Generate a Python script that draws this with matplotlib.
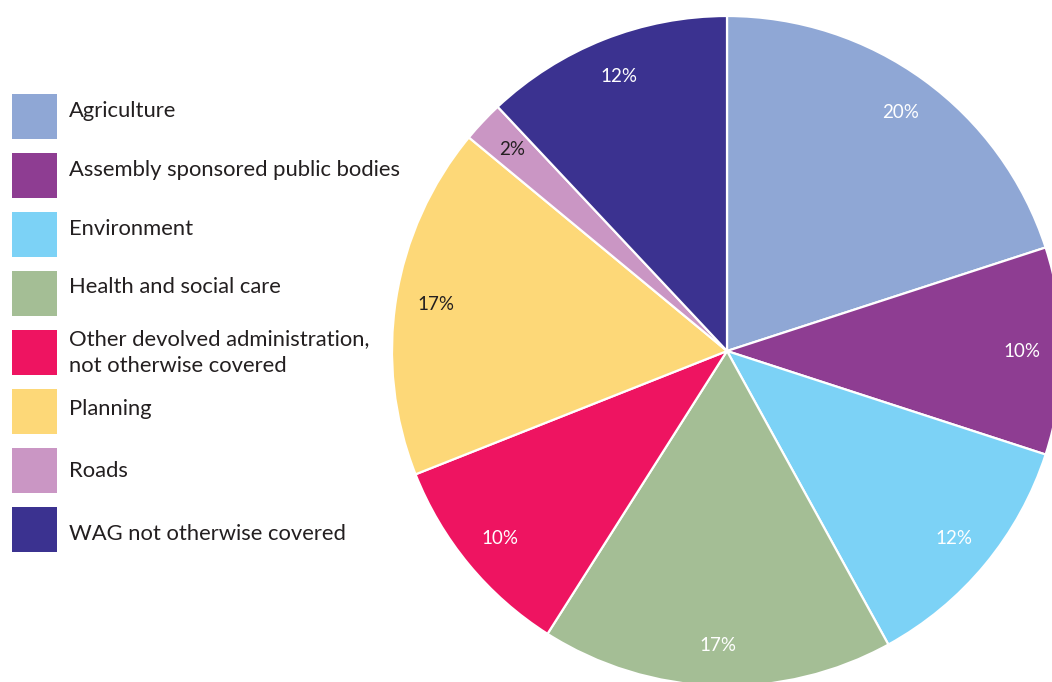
import matplotlib
matplotlib.use("Agg")
import matplotlib.pyplot as plt
from matplotlib.patches import Rectangle

categories = [
    "Agriculture",
    "Assembly sponsored public bodies",
    "Environment",
    "Health and social care",
    "Other devolved administration,\nnot otherwise covered",
    "Planning",
    "Roads",
    "WAG not otherwise covered",
]
shares = [20, 10, 12, 17, 10, 17, 2, 12]
colors = ["#8FA7D5", "#8E3D92", "#7CD2F6", "#A4BE95",
          "#EE1461", "#FDD878", "#CA96C4", "#3B3290"]
label_colors = ["white", "white", "white", "white",
                "white", "#231F20", "#231F20", "white"]

W, H = 1052, 682
plt.rcParams["font.family"] = ["Lato", "DejaVu Sans"]

fig = plt.figure(figsize=(W / 100, H / 100), dpi=100)
ax = fig.add_axes([0, 0, 1, 1])


def py(y):
    # pixel-style y (top down) to data y (bottom up)
    return H - y


wedges, texts, autotexts = ax.pie(
    shares,
    colors=colors,
    center=(727, py(351)),
    radius=335,
    startangle=90,
    counterclock=False,
    autopct=lambda p: f"{p:.0f}%",
    pctdistance=0.88,
    wedgeprops=dict(edgecolor="white", linewidth=1.6),
    textprops=dict(fontsize=13.5),
)
for t, c in zip(autotexts, label_colors):
    t.set_color(c)

# Legend: colour swatches on a regular grid, label baselines set per entry
sw, step, top0, line_h = 45, 59, 94, 27
baselines = [117, 176, 235, 293, 345, 415, 477, 540]
for i, (name, col) in enumerate(zip(categories, colors)):
    top = top0 + i * step
    ax.add_patch(Rectangle((12, py(top + sw)), sw, sw, facecolor=col,
                           edgecolor="none"))
    for k, line in enumerate(name.split("\n")):
        ax.text(69, py(baselines[i] + k * line_h), line, fontsize=15.8,
                color="#231F20", va="baseline", ha="left")

ax.set_xlim(0, W)
ax.set_ylim(0, H)
ax.set_aspect("auto")
ax.axis("off")

fig.savefig("out.png", dpi=100)
